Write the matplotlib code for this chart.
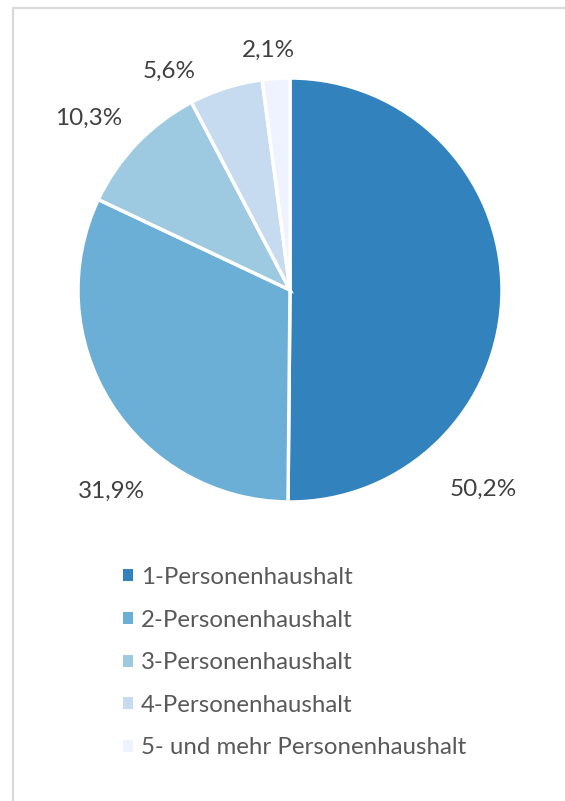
import matplotlib
matplotlib.use("Agg")
import matplotlib.pyplot as plt
from matplotlib.lines import Line2D

categories = ["1-Personenhaushalt", "2-Personenhaushalt", "3-Personenhaushalt",
              "4-Personenhaushalt", "5- und mehr Personenhaushalt"]
values = [50.2, 31.9, 10.3, 5.6, 2.1]
value_labels = ["50,2%", "31,9%", "10,3%", "5,6%", "2,1%"]
colors = ["#3182bd", "#6baed6", "#9ecae1", "#c6dbef", "#eff3ff"]
# label positions in units of pie radius (layout)
label_pos = [(0.91, -0.94), (-0.84, -0.95), (-0.95, 0.81), (-0.57, 1.03), (-0.10, 1.13)]

plt.rcParams['font.family'] = ['Lato', 'DejaVu Sans']

W, H = 565, 801
fig = plt.figure(figsize=(W / 100, H / 100), dpi=100)
cx, cy, r = 290, 290, 212
ax = fig.add_axes([(cx - r) / W, (H - cy - r) / H, 2 * r / W, 2 * r / H])
wedges, _ = ax.pie(values, colors=colors, startangle=90, counterclock=False,
                   radius=1, wedgeprops=dict(edgecolor="white", linewidth=2.5))
ax.set_xlim(-1, 1)
ax.set_ylim(-1, 1)
ax.set_aspect("equal")
ax.axis("off")

for (x, y), t in zip(label_pos, value_labels):
    ax.text(x, y, t, ha="center", va="center", fontsize=17.5, color="#404040", clip_on=False)

leg = fig.legend(wedges, categories, loc="upper left",
                 bbox_to_anchor=(123 / W, (H - 567) / H),
                 frameon=False, fontsize=17.3, labelcolor="#595959",
                 handlelength=0.4, handleheight=0.4, handletextpad=0.35,
                 labelspacing=0.9, borderpad=0, borderaxespad=0)
for h in leg.legend_handles:
    h.set_edgecolor("none")

# chart frame (top and left edges visible)
fig.add_artist(Line2D([12.5 / W, 1], [1 - 7.5 / H, 1 - 7.5 / H], transform=fig.transFigure,
                      color="#d9d9d9", linewidth=1.5))
fig.add_artist(Line2D([12.5 / W, 12.5 / W], [0, 1 - 7.5 / H], transform=fig.transFigure,
                      color="#d9d9d9", linewidth=1.5))

fig.savefig("out.png", dpi=100)
